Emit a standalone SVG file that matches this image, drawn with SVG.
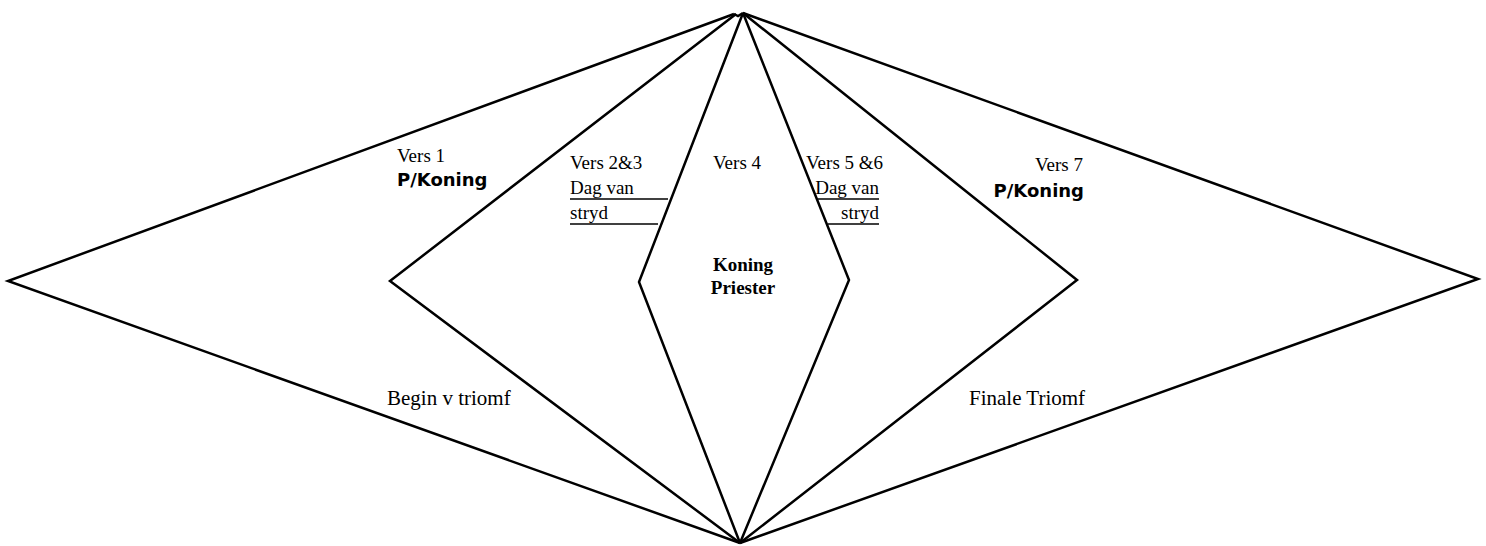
<svg xmlns="http://www.w3.org/2000/svg" width="1486" height="546" viewBox="0 0 1486 546">
<style>
.ln{fill:none;stroke:#000;stroke-width:2.5;stroke-linejoin:miter}
.ul{stroke:#000;stroke-width:1.6}
.t{font-family:"Liberation Serif","Times New Roman",serif;font-size:19px;fill:#000}
.tl{font-family:"Liberation Serif","Times New Roman",serif;font-size:21px;fill:#000}
.tb{font-family:"Liberation Serif","Times New Roman",serif;font-size:19px;font-weight:bold;fill:#000}
.pk{font-family:"DejaVu Sans",Verdana,sans-serif;font-size:18px;font-weight:bold;fill:#000}
</style>
<rect width="1486" height="546" fill="#fff"/>
<g id="connectors">
<polyline class="ln" points="740,543 8,281 734,14"/>
<polyline class="ln" points="740,543 390,281 736,14"/>
<polyline class="ln" points="740,543 639,282 743,13"/>
<polyline class="ln" points="740,543 849,280 743,13"/>
<polyline class="ln" points="740,543 1077,280 743,13"/>
<polyline class="ln" points="740,543 1478,279 743,13"/>
<polyline class="ln" points="734,14 738,16 743,13"/>
</g>
<g id="vers1">
<text class="t" x="397" y="162">Vers 1</text>
<text class="pk" x="397" y="186">P/Koning</text>
</g>
<g id="vers23">
<text class="t" x="570" y="169">Vers 2&amp;3</text>
<text class="t" x="570" y="194">Dag van</text>
<line class="ul" x1="570" y1="199" x2="668" y2="199"/>
<text class="t" x="570" y="219">stryd</text>
<line class="ul" x1="570" y1="224" x2="658" y2="224"/>
</g>
<g id="vers4">
<text class="t" x="713" y="169">Vers 4</text>
<text class="tb" x="743" y="271" text-anchor="middle">Koning</text>
<text class="tb" x="743" y="294" text-anchor="middle">Priester</text>
</g>
<g id="vers56">
<text class="t" x="806" y="169">Vers 5 &amp;6</text>
<text class="t" x="879" y="194" text-anchor="end">Dag van</text>
<line class="ul" x1="818" y1="199" x2="879" y2="199"/>
<text class="t" x="879" y="219" text-anchor="end">stryd</text>
<line class="ul" x1="828" y1="224" x2="879" y2="224"/>
</g>
<g id="vers7">
<text class="t" x="1083" y="171" text-anchor="end">Vers 7</text>
<text class="pk" x="1084" y="197" text-anchor="end">P/Koning</text>
</g>
<g id="begin">
<text class="tl" x="387" y="405">Begin v triomf</text>
</g>
<g id="finale">
<text class="tl" x="969" y="405">Finale Triomf</text>
</g>
</svg>
